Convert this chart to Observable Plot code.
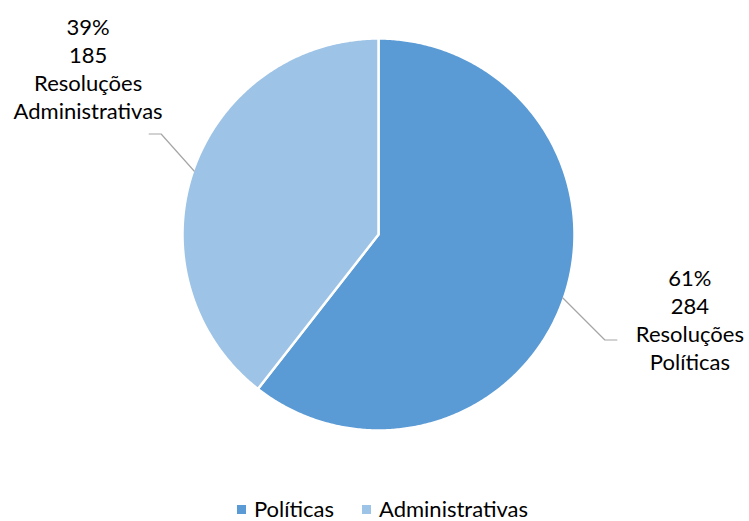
<!DOCTYPE html>
<html>
<head>
<meta charset="utf-8">
<script src="https://cdn.jsdelivr.net/npm/d3@7"></script>
<script src="https://cdn.jsdelivr.net/npm/@observablehq/plot@0.6"></script>
<style>
  html, body { margin: 0; padding: 0; background: #fff; overflow: hidden; }
  #chart svg { display: block; }
  .legend { display: flex; justify-content: center; align-items: center; font-family: Lato, "Open Sans", sans-serif; font-size: 22px; color: #000; height: 24px; line-height: 24px; margin-left: 16px; margin-top: 1px; }
  .legend .item { display: flex; align-items: center; margin: 0 14px; }
  .legend .sw { width: 9px; height: 9px; margin-right: 8px; display: inline-block; }
</style>
</head>
<body>
<div id="chart"></div>
<script>
const categories = ["Políticas", "Administrativas"];
const values = [284, 185];
const labelNames = ["Resoluções\nPolíticas", "Resoluções\nAdministrativas"];
const colors = ["#5B9BD5", "#9DC3E6"];

const W = 749, H = 496;
const cx = 378, cy = 234, R = 196;
const total = d3.sum(values);

// slices, clockwise from top
let acc = 0;
const slices = categories.map((c, i) => {
  const a0 = acc / total * 2 * Math.PI;
  acc += values[i];
  const a1 = acc / total * 2 * Math.PI;
  return {cat: c, value: values[i], a0, a1, mid: (a0 + a1) / 2, i};
});

const pt = (a, r) => ({x: r * Math.sin(a), y: -r * Math.cos(a)});

const piePts = [];
for (const s of slices) {
  piePts.push({cat: s.cat, ...pt(0, 0)});
  const n = Math.max(2, Math.ceil((s.a1 - s.a0) / (Math.PI / 360)));
  for (let k = 0; k <= n; k++) {
    piePts.push({cat: s.cat, ...pt(s.a0 + (s.a1 - s.a0) * k / n, R)});
  }
}

// leader lines and labels
const leaderPts = [];
const labels = [];
for (const s of slices) {
  const e = pt(s.mid, R - 1);
  const sx = Math.sign(e.x), sy = Math.sign(e.y);
  const elbow = {x: e.x + sx * (sy > 0 ? 42 : 33), y: e.y + sy * (sy > 0 ? 42 : 37)};
  const end = {x: elbow.x + sx * 12, y: elbow.y};
  leaderPts.push({cat: s.cat, ...e}, {cat: s.cat, ...elbow}, {cat: s.cat, ...end});
  const pct = Math.round(s.value / total * 100) + "%";
  labels.push({
    cat: s.cat,
    text: pct + "\n" + s.value + "\n" + labelNames[s.i],
    x: sy > 0 ? end.x + 73 : end.x - 61,
    y: sy > 0 ? end.y - 74 : end.y - 119
  });
}

const chart = Plot.plot({
  width: W,
  height: H,
  margin: 0,
  x: {domain: [-cx, W - cx], range: [0, W], axis: null},
  y: {domain: [-cy, H - cy], range: [0, H], axis: null},
  color: {domain: categories, range: colors},
  marks: [
    Plot.line(piePts, {x: "x", y: "y", z: "cat", fill: "cat", stroke: "white", strokeWidth: 2.5, curve: "linear-closed"}),
    Plot.line(leaderPts, {x: "x", y: "y", z: "cat", stroke: "#A6A6A6", strokeWidth: 1.2}),
    Plot.text(labels, {x: "x", y: "y", text: "text", lineAnchor: "top", textAnchor: "middle", lineHeight: 1.27, fontSize: 22, fontFamily: "Lato, 'Open Sans', sans-serif", fill: "#000"})
  ]
});
document.getElementById("chart").appendChild(chart);

const legend = document.createElement("div");
legend.className = "legend";
categories.forEach((c, i) => {
  const item = document.createElement("span");
  item.className = "item";
  const sw = document.createElement("span");
  sw.className = "sw";
  sw.style.background = colors[i];
  item.appendChild(sw);
  item.appendChild(document.createTextNode(c));
  legend.appendChild(item);
});
document.body.appendChild(legend);
</script>
</body>
</html>
